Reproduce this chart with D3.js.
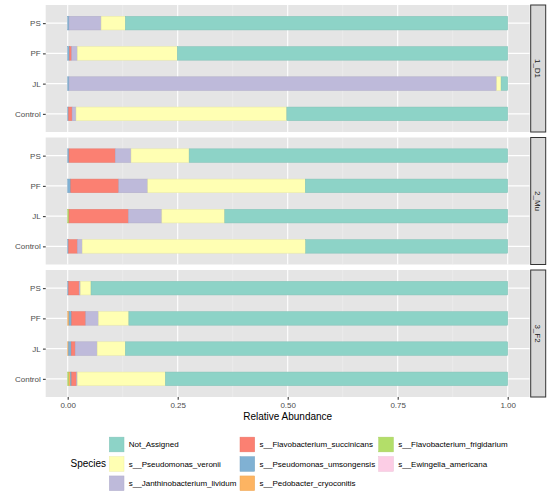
<!DOCTYPE html>
<html><head><meta charset="utf-8">
<script src="https://cdn.jsdelivr.net/npm/d3@7"></script>
<style>body{margin:0;background:#fff}svg{display:block;font-family:"Liberation Sans",Arial,sans-serif}</style>
</head><body><svg id="c" width="550" height="500"></svg>
<script>
const species = ["Not_Assigned","s__Pseudomonas_veronii","s__Janthinobacterium_lividum","s__Flavobacterium_succinicans","s__Pseudomonas_umsongensis","s__Pedobacter_cryoconitis","s__Flavobacterium_frigidarium","s__Ewingella_americana"];
const colors = ["#8DD3C7","#FFFFB3","#BEBADA","#FB8072","#80B1D3","#FDB462","#B3DE69","#FCCDE5"];
const facets = ["1_D1","2_Mu","3_F2"];
const samples = ["PS","PF","JL","Control"];
const xTicks = [0,0.25,0.5,0.75,1];
const xTickLabels = ["0.00","0.25","0.50","0.75","1.00"];
// values per species, order: facet (1_D1,2_Mu,3_F2) x sample (PS,PF,JL,Control)
const notAssigned   = [0.869,0.751,0.015,0.502, 0.724,0.460,0.643,0.459, 0.947,0.861,0.869,0.778];
const veronii       = [0.055,0.227,0.010,0.479, 0.132,0.358,0.143,0.508, 0.024,0.069,0.064,0.200];
const lividum       = [0.073,0.013,0.972,0.009, 0.036,0.066,0.076,0.011, 0.003,0.029,0.050,0.002];
const succinicans   = [0.000,0.005,0.000,0.008, 0.105,0.109,0.135,0.020, 0.024,0.032,0.009,0.011];
const umsongensis   = [0.003,0.004,0.003,0.002, 0.003,0.007,0.000,0.002, 0.002,0.006,0.006,0.003];
const cryoconitis   = [0.000,0.000,0.000,0.000, 0.000,0.000,0.000,0.000, 0.000,0.003,0.002,0.003];
const frigidarium   = [0.000,0.000,0.000,0.000, 0.000,0.000,0.003,0.000, 0.000,0.000,0.000,0.003];
const americana     = [0.000,0.000,0.000,0.000, 0.000,0.000,0.000,0.000, 0.000,0.000,0.000,0.000];
const seriesValues = [notAssigned,veronii,lividum,succinicans,umsongensis,cryoconitis,frigidarium,americana];

const svg = d3.select("#c");
const panelL = 45.7, panelR = 529.7, stripW = 15;
const panelTop = 5, panelH = 127, panelGap = 5.5;
const x = d3.scaleLinear().domain([-0.05,1.05]).range([panelL,panelR]);
const bg = "#E5E5E5";
const smallFont = "8px", bigFont = "10px";

facets.forEach((f,fi)=>{
  const top = panelTop + fi*(panelH+panelGap);
  const y = d3.scalePoint().domain(samples).range([top,top+panelH]).padding(0.6);
  const bw = y.step()*0.45;
  const g = svg.append("g");
  g.append("rect").attr("x",panelL).attr("y",top).attr("width",panelR-panelL).attr("height",panelH).attr("fill",bg);
  [0.125,0.375,0.625,0.875].forEach(v=>g.append("line").attr("x1",x(v)).attr("x2",x(v)).attr("y1",top).attr("y2",top+panelH).attr("stroke","#F2F2F2").attr("stroke-width",0.5));
  xTicks.forEach(v=>g.append("line").attr("x1",x(v)).attr("x2",x(v)).attr("y1",top).attr("y2",top+panelH).attr("stroke","#fff").attr("stroke-width",1.07));
  samples.forEach(s=>g.append("line").attr("x1",panelL).attr("x2",panelR).attr("y1",y(s)).attr("y2",y(s)).attr("stroke","#fff").attr("stroke-width",1.07));
  samples.forEach((s,si)=>{
    const idx = fi*4+si;
    let cum = 0;
    for(let k=species.length-1;k>=0;k--){
      const v = seriesValues[k][idx];
      if(v<=0) continue;
      g.append("rect").attr("x",x(cum)).attr("y",y(s)-bw/2).attr("width",x(cum+v)-x(cum)).attr("height",bw)
        .attr("fill",colors[k]).attr("stroke",d3.color(colors[k]).darker(0.25)).attr("stroke-width",0.5);
      cum += v;
    }
  });
  const ya = d3.axisLeft(y).tickSize(2.75).tickPadding(2.2);
  const ag = g.append("g").attr("transform",`translate(${panelL},0)`).call(ya);
  ag.select(".domain").remove();
  ag.selectAll("line").attr("stroke","#333").attr("stroke-width",1.07);
  ag.selectAll("text").attr("fill","#4D4D4D").style("font-size",smallFont).style("font-family","Liberation Sans, Arial, sans-serif");
  const sx = panelR+1;
  g.append("rect").attr("x",sx).attr("y",top).attr("width",stripW).attr("height",panelH).attr("fill","#D9D9D9").attr("stroke","#333").attr("stroke-width",1);
  g.append("text").attr("transform",`translate(${sx+stripW/2},${top+panelH/2}) rotate(90)`).attr("text-anchor","middle").attr("dy","0.35em")
    .attr("fill","#1A1A1A").style("font-size",smallFont).text(f);
});

const bottom = panelTop + 3*panelH + 2*panelGap;
const xa = d3.axisBottom(x).tickValues(xTicks).tickFormat((d,i)=>xTickLabels[i]).tickSize(2.75).tickPadding(2.5);
const xg = svg.append("g").attr("transform",`translate(0,${bottom})`).call(xa);
xg.select(".domain").remove();
xg.selectAll("line").attr("stroke","#333").attr("stroke-width",1.07);
xg.selectAll("text").attr("fill","#4D4D4D").style("font-size",smallFont).style("font-family","Liberation Sans, Arial, sans-serif");
svg.append("text").attr("x",(panelL+panelR)/2).attr("y",420).attr("text-anchor","middle").attr("fill","#000").style("font-size",bigFont).text("Relative Abundance");

svg.append("text").attr("x",70.5).attr("y",463).attr("dy","0.35em").style("font-size",bigFont).attr("fill","#000").text("Species");
const colX = [109.3,240,378.7];
const rowY = [444.5,464,483.3];
species.forEach((s,i)=>{
  const c = Math.floor(i/3), r = i%3;
  svg.append("rect").attr("x",colX[c]).attr("y",rowY[r]-7.35).attr("width",14.7).attr("height",14.7).attr("fill",colors[i]).attr("stroke",d3.color(colors[i]).darker(0.2)).attr("stroke-width",0.5);
  svg.append("text").attr("x",colX[c]+19.5).attr("y",rowY[r]).attr("dy","0.35em").style("font-size",smallFont).attr("fill","#000").text(s);
});
</script></body></html>
